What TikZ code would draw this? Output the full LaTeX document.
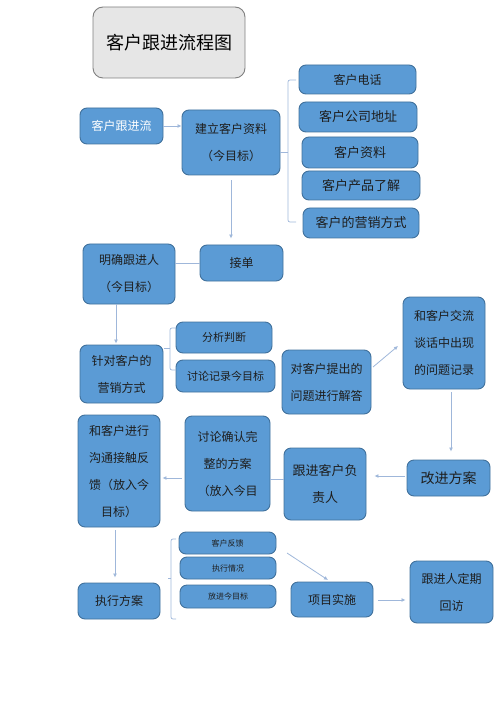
\documentclass[tikz,border=0pt]{standalone}
\usepackage{fontspec}
\setmainfont{Noto Sans CJK SC}
\usetikzlibrary{arrows.meta}
\definecolor{boxfill}{HTML}{5B9BD5}
\definecolor{boxline}{HTML}{41719C}
\definecolor{conn}{HTML}{9FB7DA}
\definecolor{txt}{HTML}{1E1E1E}
\definecolor{titlefill}{HTML}{E6E6E6}
\definecolor{titleline}{HTML}{7F7F7F}
\tikzset{
  box/.style={draw=boxline, fill=boxfill, line width=0.9pt, rounded corners=7pt,
    inner sep=0pt, align=center, text=txt},
  fs/.style={font=\fontsize{#1}{27}\selectfont},
  arr/.style={draw=conn, line width=0.8pt, -{Latex[length=4pt,width=4pt]}},
  lnk/.style={draw=conn, line width=0.8pt},
  brk/.style={draw=conn, line width=0.7pt, rounded corners=2pt},
}
\begin{document}
\begin{tikzpicture}[x=1pt,y=-1pt]
\useasboundingbox (0,0) rectangle (500,708);
% title
\node[draw=titleline, fill=titlefill, line width=0.9pt, rounded corners=10pt,
  minimum width=152pt, minimum height=71pt, font=\fontsize{18}{20}\selectfont, text=black]
  (title) at (169,42.5) {客户跟进流程图};
% row 1
\node[box, fs=12, text=white, minimum width=83pt, minimum height=36pt] (flow) at (121.5,126) {客户跟进流};
\node[box, fs=12, minimum width=98pt, minimum height=65pt] (build) at (231,142.5) {建立客户资料\\（今目标）};
\node[box, fs=12, minimum width=117pt, minimum height=29pt] (c1) at (357.5,79.5) {客户电话};
\node[box, fs=13, minimum width=118pt, minimum height=30pt] (c2) at (358,117) {客户公司地址};
\node[box, fs=13, minimum width=116pt, minimum height=31pt] (c3) at (360,152.5) {客户资料};
\node[box, fs=13, minimum width=118pt, minimum height=29pt] (c4) at (361,185.5) {客户产品了解};
\node[box, fs=13, minimum width=116pt, minimum height=30pt] (c5) at (361,223) {客户的营销方式};
\draw[arr] (flow.east) -- (flow.east -| build.west);
\coordinate (b1t) at (296,80);
\coordinate (b1b) at (296,222);
\coordinate (b1m) at (288,152);
\draw[brk] (b1t) -- (288,80) -- (288,222) -- (b1b);
\draw[lnk] (b1m) -- (b1m -| build.east);
% row 2
\node[box, fs=12, minimum width=83pt, minimum height=36pt] (jiedan) at (241.5,263) {接单};
\node[box, fs=12, minimum width=92pt, minimum height=60pt] (mingque) at (129,274) {明确跟进人\\（今目标）};
\draw[arr, shorten <=5pt, shorten >=6pt] (build.south) -- (build.south |- jiedan.north);
\draw[lnk] (jiedan.west) -- (jiedan.west -| mingque.east);
% row 3
\node[box, fs=12, minimum width=83pt, minimum height=58pt] (zhendui) at (121.5,374) {针对客户的\\营销方式};
\node[box, fs=11, minimum width=96pt, minimum height=31pt] (fenxi) at (224,337.5) {分析判断};
\node[box, fs=11, minimum width=99pt, minimum height=32pt] (taolun) at (225.5,376) {讨论记录今目标};
\node[box, fs=12, minimum width=89pt, minimum height=64pt] (jieda) at (326.5,382) {对客户提出的\\问题进行解答};
\node[box, fs=12, minimum width=82pt, minimum height=92pt] (jiaoliu) at (444,343) {和客户交流\\谈话中出现\\的问题记录};
\coordinate (mq) at (116,304);
\draw[arr, shorten >=1pt] (mq) -- (mq |- zhendui.north);
\coordinate (b2m) at (164,348);
\draw[brk] (176,328) -- (170,328) -- (170,370) -- (176,370);
\draw[lnk] (170,348) -- (b2m);
\coordinate (jd1) at (373,367);
\coordinate (jl1) at (398,346);
\draw[arr] (jd1) -- (jl1);
% row 4
\node[box, fs=14, minimum width=83pt, minimum height=36pt] (gaijin) at (448.5,478) {改进方案};
\node[box, fs=13, minimum width=82pt, minimum height=72pt] (fuze) at (325,484) {跟进客户负\\责人};
\node[box, fs=12, minimum width=85pt, minimum height=95pt] (queren) at (227.5,463.5) {讨论确认完\\整的方案\\（放入今目};
\node[box, fs=12, minimum width=82pt, minimum height=112pt] (goutong) at (119,471) {和客户进行\\沟通接触反\\馈（放入今\\目标）};
\coordinate (jl2) at (451,392);
\draw[arr, shorten >=8pt] (jl2) -- (jl2 |- gaijin.north);
\coordinate (gj) at (405,476);
\draw[arr, shorten >=8pt] (gj) -- (gj -| fuze.east);
\coordinate (fz) at (284,479);
\draw[lnk] (fz) -- (fz -| queren.east);
\coordinate (qr) at (182,478);
\draw[arr, shorten >=2pt] (qr) -- (qr -| goutong.east);
% row 5
\node[box, fs=12, minimum width=82pt, minimum height=36pt] (zhixing) at (119,601) {执行方案};
\node[box, fs=8, minimum width=97pt, minimum height=22pt] (fankui) at (227.5,543) {客户反馈};
\node[box, fs=8, minimum width=96pt, minimum height=22pt] (qingkuang) at (228,568) {执行情况};
\node[box, fs=8, minimum width=96pt, minimum height=23pt] (fangjin) at (228,596.5) {放进今目标};
\node[box, fs=12, minimum width=82pt, minimum height=35pt] (shishi) at (332,599.5) {项目实施};
\node[box, fs=12, minimum width=83pt, minimum height=62pt] (huifang) at (451.5,592) {跟进人定期\\回访};
\coordinate (gt) at (115,530);
\draw[arr, shorten >=5pt] (gt) -- (gt |- zhixing.north);
\draw[brk] (176,539) -- (171,539) -- (171,619) -- (176,619);
\coordinate (b3m) at (168,578);
\draw[lnk] (171,578) -- (b3m);
\coordinate (fk) at (287,553);
\coordinate (ss) at (328,580);
\draw[arr] (fk) -- (ss);
\coordinate (sh) at (378,600);
\draw[arr, shorten >=4pt] (sh) -- (sh -| huifang.west);
\end{tikzpicture}
\end{document}
